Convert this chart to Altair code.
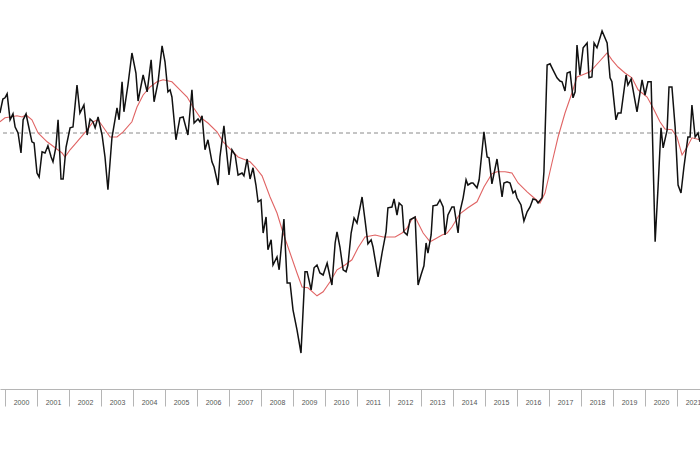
import altair as alt
import pandas as pd

# Black series: months since Jan 2000 and index values
black_month = [-1.9, -0.8, 0, 0.8, 1.9, 3, 3.8, 4.9, 6, 6.8, 7.9, 8.6, 10.1, 10.9, 12, 12.8, 13.9, 15, 16.1, 17.3,
               18, 19.1, 19.9, 21, 21.8, 22.9, 24.4, 25.5, 27, 28.1, 29.6, 30.8, 31.9, 33, 33.8, 34.9, 36.4, 37.5, 38.6, 40.1,
               42, 42.8, 43.9, 44.6, 46.1, 47.6, 49.1, 49.9, 51.8, 53.3, 54.8, 55.9, 57.4, 58.9, 60, 61.1, 61.9, 62.6, 64.1, 65.6,
               66.8, 68.6, 70.1, 70.9, 72.4, 73.1, 73.9, 75, 76.1, 77.6, 78.4, 79.9, 80.6, 82.1, 84, 85.1, 86.3, 87.4, 88.9, 89.6,
               90.8, 91.9, 93, 94.1, 94.9, 96, 96.8, 97.9, 98.6, 99.8, 100.5, 102, 102.8, 104.6, 105.8, 106.9, 108, 109.5, 111, 112.5,
               113.3, 114.8, 115.9, 117, 118.1, 119.3, 120.8, 121.9, 122.6, 123.8, 124.5, 125.6, 126.8, 127.9, 128.6, 129.8, 130.9, 132, 133.9, 135,
               136.1, 137.3, 138, 139.9, 141.4, 142.9, 143.6, 145.1, 145.9, 147, 147.8, 148.9, 149.6, 150.8, 151.9, 153.8, 154.9, 156, 157.1, 157.9,
               158.6, 159.8, 160.5, 162, 163.1, 164.3, 165, 166.1, 167.6, 168.4, 169.9, 170.6, 171.8, 172.9, 173.6, 174.8, 175.5, 177, 177.8, 179.6,
               180.8, 181.5, 182.6, 184.5, 186.4, 187.1, 188.3, 189.4, 190.5, 191.3, 192, 193.5, 194.6, 195.8, 196.9, 198, 199.1, 199.9, 201.4, 202.1,
               203.3, 204.4, 205.5, 207, 208.1, 208.9, 210, 210.8, 211.9, 213, 213.8, 214.5, 215.6, 216.8, 218.3, 219, 220.1, 220.9, 222, 223.9,
               225.8, 226.9, 227.6, 229.1, 229.9, 231, 232.9, 233.6, 234.8, 237, 238.9, 240, 241.1, 242.3, 243.8, 244.9, 246, 246.8, 248.3, 249,
               250.1, 251.3, 252.4, 253.5, 254.6, 256.1, 256.9, 257.6, 258.8, 259.9, 260.6]
black_value = [105.0, 108.5, 108.8, 109.8, 103.3, 104.8, 101.5, 100.0, 95.0, 103.3, 104.8, 102.5, 97.8, 97.5, 90.0, 89.0, 95.3, 95.0, 96.8, 94.0,
               92.8, 96.5, 103.3, 88.5, 88.5, 96.5, 101.3, 101.5, 112.0, 105.0, 107.0, 99.5, 103.5, 102.8, 101.3, 104.0, 99.5, 94.0, 85.8, 98.8,
               106.3, 103.3, 112.8, 105.3, 112.0, 120.0, 115.0, 108.0, 114.5, 110.3, 118.3, 107.8, 112.8, 121.8, 117.8, 110.3, 110.8, 109.0, 98.3, 103.8,
               104.0, 99.5, 110.8, 102.5, 103.5, 102.8, 104.3, 95.8, 98.3, 92.8, 91.5, 87.0, 94.0, 101.8, 89.5, 95.8, 94.5, 89.5, 90.0, 89.3,
               93.5, 88.5, 91.3, 87.0, 82.8, 83.3, 75.0, 79.0, 70.8, 73.3, 67.0, 69.0, 65.8, 78.5, 62.5, 62.5, 55.8, 50.8, 45.0, 65.3,
               65.3, 60.8, 66.3, 67.0, 65.0, 64.5, 67.5, 64.0, 62.0, 72.5, 75.3, 71.5, 65.8, 65.3, 67.0, 75.0, 78.8, 77.5, 84.0, 78.3,
               72.3, 73.3, 71.5, 64.0, 70.0, 75.3, 81.3, 81.5, 83.5, 79.5, 82.5, 81.8, 75.3, 74.5, 78.3, 79.0, 62.0, 64.5, 66.8, 72.5,
               70.0, 74.5, 81.8, 82.0, 83.3, 81.5, 74.5, 79.5, 81.5, 81.5, 75.0, 80.3, 83.8, 88.3, 87.0, 87.5, 87.5, 86.3, 88.3, 100.3,
               94.0, 93.8, 87.3, 93.5, 84.0, 87.5, 87.8, 87.5, 85.0, 85.5, 83.8, 82.0, 78.0, 80.3, 81.5, 83.5, 83.3, 82.5, 83.8, 90.3,
               117.0, 117.3, 115.8, 113.8, 113.0, 112.8, 110.5, 115.0, 115.3, 108.8, 110.3, 122.0, 114.5, 121.3, 122.5, 113.8, 114.0, 122.5, 121.3, 125.5,
               122.5, 113.8, 112.8, 103.3, 105.0, 105.0, 114.5, 112.0, 113.5, 105.3, 113.3, 109.5, 112.8, 112.8, 72.8, 86.5, 101.3, 96.3, 100.8, 111.5,
               111.5, 101.5, 87.0, 85.0, 91.5, 99.0, 99.0, 107.0, 99.0, 100.0, 97.8]

# Red series (smoothed average)
red_month = [-1.9, 0, 1.9, 4.5, 6.4, 7.9, 10.1, 12.4, 15.8, 18.8, 21.4, 22.5, 24.4, 27, 30.8, 33, 34.9, 36.8, 39.4, 42,
             44.3, 47.6, 49.5, 51.8, 54.4, 57, 59.3, 62.6, 65.6, 68.3, 70.5, 73.1, 76.1, 79.5, 81.8, 85.5, 87.4, 89.3, 91.9, 93.8,
             96.4, 99.4, 102, 104.3, 106.9, 109.5, 111.4, 113.6, 117, 119.3, 121.9, 124.5, 127.5, 130.1, 132.4, 135, 138.8, 141.8, 146.3, 148.9,
             150.8, 152.6, 153.8, 154.9, 156.8, 159.4, 161.3, 163.9, 165.8, 167.6, 170.6, 173.6, 177, 179.6, 182.6, 184.5, 187.5, 190.1, 192.4, 195.8,
             198, 200.6, 202.5, 205.1, 207.4, 210, 212.6, 214.5, 216.4, 219.4, 222.4, 225.8, 227.6, 229.9, 232.5, 235.1, 237.4, 240.8, 243, 245.6,
             247.5, 250.1, 252, 253.9, 255.8, 257.6, 260.6]
red_value = [102.8, 103.8, 104.0, 104.3, 104.0, 104.5, 103.3, 100.0, 97.8, 96.3, 95.0, 94.0, 95.8, 97.8, 100.8, 102.8, 103.3, 101.5, 99.0, 99.0,
             100.3, 102.8, 106.5, 109.5, 111.5, 112.8, 113.3, 112.8, 110.8, 109.0, 106.5, 104.0, 102.5, 100.3, 97.8, 95.3, 94.0, 93.5, 92.8, 91.5,
             89.3, 84.0, 80.0, 75.0, 70.0, 65.0, 61.5, 61.3, 59.3, 60.3, 62.8, 65.8, 67.0, 68.3, 71.3, 74.0, 74.5, 74.0, 74.0, 75.0,
             76.3, 78.5, 79.0, 77.5, 75.0, 72.8, 73.5, 74.5, 75.0, 76.5, 79.8, 81.3, 82.8, 86.5, 89.8, 90.3, 90.3, 90.0, 87.5, 85.3,
             84.0, 82.5, 85.0, 92.5, 99.0, 105.0, 110.0, 114.0, 114.5, 115.3, 117.5, 120.0, 118.3, 116.5, 115.0, 113.8, 110.8, 109.0, 106.3, 102.8,
             101.0, 100.8, 99.0, 94.5, 96.5, 98.8, 98.3]

reference_level = [100]
year_ticks = list(range(2000, 2022))

black = pd.DataFrame({"year": [2000 + m / 12 for m in black_month], "value": black_value})
red = pd.DataFrame({"year": [2000 + m / 12 for m in red_month], "value": red_value})
ref = pd.DataFrame({"value": reference_level})

x_scale = alt.Scale(domain=[1999.84375, 2021.71875], nice=False, zero=False)
y_scale = alt.Scale(domain=[36, 133.25], nice=False, zero=False)

x_axis = alt.Axis(
    values=year_ticks, format="d", title=None, grid=False,
    domainColor="#b5b5b5", tickColor="#b5b5b5", tickSize=17, tickWidth=1,
    labelOffset=16, labelPadding=-8, labelFont="Liberation Sans", labelFontSize=7,
    labelColor="#555555", labelFlush=False, labelOverlap=False, labelBound=False,
)

rule = alt.Chart(ref).mark_rule(color="#8a8a8a", strokeDash=[4, 3], strokeWidth=1).encode(
    y=alt.Y("value:Q", scale=y_scale, axis=None)
)

red_line = alt.Chart(red).mark_line(color="#e06464", strokeWidth=1.1, clip=True).encode(
    x=alt.X("year:Q", scale=x_scale, axis=x_axis),
    y=alt.Y("value:Q", scale=y_scale, axis=None),
)

black_line = alt.Chart(black).mark_line(color="#111111", strokeWidth=1.5, clip=True).encode(
    x=alt.X("year:Q", scale=x_scale, axis=x_axis),
    y=alt.Y("value:Q", scale=y_scale, axis=None),
)

chart = alt.layer(rule, red_line, black_line).properties(
    width=700, height=389,
    padding={"left": 0, "top": 0, "right": 0, "bottom": 61},
    autosize=alt.AutoSizeParams(type="none"),
    background="white",
).configure_view(stroke=None)

chart.save("out.html", embed_options={"renderer": "svg", "actions": False})
